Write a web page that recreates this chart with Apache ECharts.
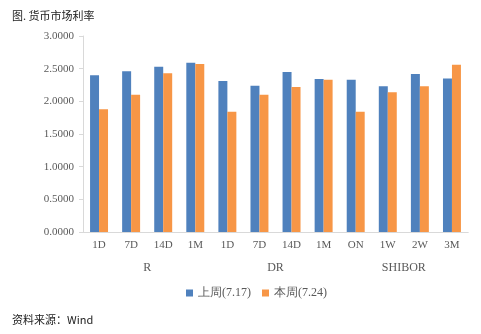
<!DOCTYPE html>
<html><head><meta charset="utf-8">
<script src="https://cdn.jsdelivr.net/npm/echarts@6/dist/echarts.min.js"></script>
<style>html,body{margin:0;padding:0;background:#fff}#c{width:481px;height:334px}</style>
</head><body><div id="c"></div>
<script>
const categories = ['1D','7D','14D','1M','1D','7D','14D','1M','ON','1W','2W','3M'];
const groups = ['R','DR','SHIBOR'];
const lastWeek = [2.40,2.46,2.53,2.59,2.31,2.24,2.45,2.34,2.33,2.23,2.42,2.35];
const thisWeek = [1.88,2.10,2.43,2.57,1.84,2.10,2.22,2.33,1.84,2.14,2.23,2.56];
const seriesNames = ['上周(7.17)','本周(7.24)'];
const yTicks = {min:0, max:3, interval:0.5};

const serif = '"Liberation Serif", "Times New Roman", serif';
const cjk = '"Noto Sans CJK SC", sans-serif';
const chart = echarts.init(document.getElementById('c'));
chart.setOption({
  animation:false,
  grid:{left:83, right:13, top:36, bottom:102},
  graphic:[
    {type:'text', left:12, top:10, style:{text:'图. 货币市场利率', font:'11px '+cjk, fill:'#222'}},
    {type:'text', left:12, top:314, style:{text:'资料来源：Wind', font:'11px '+cjk, fill:'#222'}}
  ],
  legend:{
    data:seriesNames, top:287, left:186, padding:0, itemWidth:7, itemHeight:7, itemGap:11,
    icon:'rect', textStyle:{fontFamily:serif, fontSize:12, color:'#595959'}
  },
  xAxis:[
    {type:'category', data:categories, position:'bottom',
     axisLine:{lineStyle:{color:'#d9d9d9'}},
     axisTick:{length:19, lineStyle:{color:'#d9d9d9'}},
     axisLabel:{margin:8, fontFamily:serif, fontSize:11, color:'#595959', interval:0}},
    {type:'category', data:groups, position:'bottom',
     axisLine:{lineStyle:{color:'#d9d9d9'}},
     axisTick:{length:44, lineStyle:{color:'#d9d9d9'}},
     axisLabel:{margin:30, fontFamily:serif, fontSize:12, color:'#595959', interval:0}}
  ],
  yAxis:{type:'value', min:yTicks.min, max:yTicks.max, interval:yTicks.interval,
    axisLine:{show:true, lineStyle:{color:'#d9d9d9'}},
    axisTick:{show:true, length:4, lineStyle:{color:'#d9d9d9'}},
    splitLine:{show:false},
    axisLabel:{margin:9, fontFamily:serif, fontSize:11, color:'#595959',
      formatter:v=>v.toFixed(4)}},
  series:[
    {name:seriesNames[0], type:'bar', data:lastWeek, xAxisIndex:0, barGap:'0%', barCategoryGap:'44%',
     itemStyle:{color:'#4f81bd'}},
    {name:seriesNames[1], type:'bar', data:thisWeek, xAxisIndex:0, barGap:'0%', barCategoryGap:'44%',
     itemStyle:{color:'#f79646'}}
  ]
});
</script></body></html>
